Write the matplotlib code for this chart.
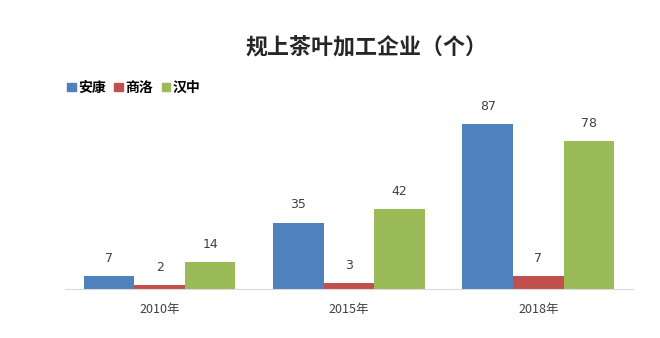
import matplotlib
matplotlib.use("Agg")
import matplotlib.pyplot as plt
import numpy as np
from matplotlib.patches import Patch

plt.rcParams['font.family'] = ['Noto Sans CJK SC', 'DejaVu Sans']

categories = ['2010年', '2015年', '2018年']
series_names = ['安康', '商洛', '汉中']
ankang = [7, 35, 87]
shangluo = [2, 3, 7]
hanzhong = [14, 42, 78]
colors = ['#4F81BD', '#C0504D', '#9BBB59']
title = '规上茶叶加工企业（个）'

fig = plt.figure(figsize=(6.6, 3.38), dpi=100)
ax = fig.add_axes([0.0985, 0.145, 0.8605, 0.562])

x = np.arange(len(categories))
w = 0.267
for i, (vals, c) in enumerate(zip([ankang, shangluo, hanzhong], colors)):
    pos = x + (i - 1) * w
    bars = ax.bar(pos, vals, width=w, color=c)
    for p, v in zip(pos, vals):
        ax.annotate(str(v), (p, v), xytext=(0, 8), textcoords='offset points',
                    ha='center', va='bottom', fontsize=9, color='#404040',
                    family='DejaVu Sans')

ax.set_xlim(-0.5, 2.5)
ax.set_ylim(0, 100)
ax.set_xticks(x)
ax.set_xticklabels(categories, fontsize=9, color='#404040')
ax.tick_params(axis='x', length=0, pad=10)
ax.set_yticks([])
for s in ['top', 'right', 'left']:
    ax.spines[s].set_visible(False)
ax.spines['bottom'].set_color('#D9D9D9')

fig.text(0.555, 0.86, title, ha='center', va='center', fontsize=15.8, fontweight='bold', color='#262626')

handles = [Patch(color=c) for c in colors]
fig.legend(handles, series_names, loc='center left', bbox_to_anchor=(0.083, 0.74),
           ncol=3, frameon=False, handlelength=0.6, handleheight=0.6, handletextpad=0.2,
           columnspacing=0.6, prop={'size': 10, 'weight': 'bold'})

fig.savefig('out.png', dpi=100)
